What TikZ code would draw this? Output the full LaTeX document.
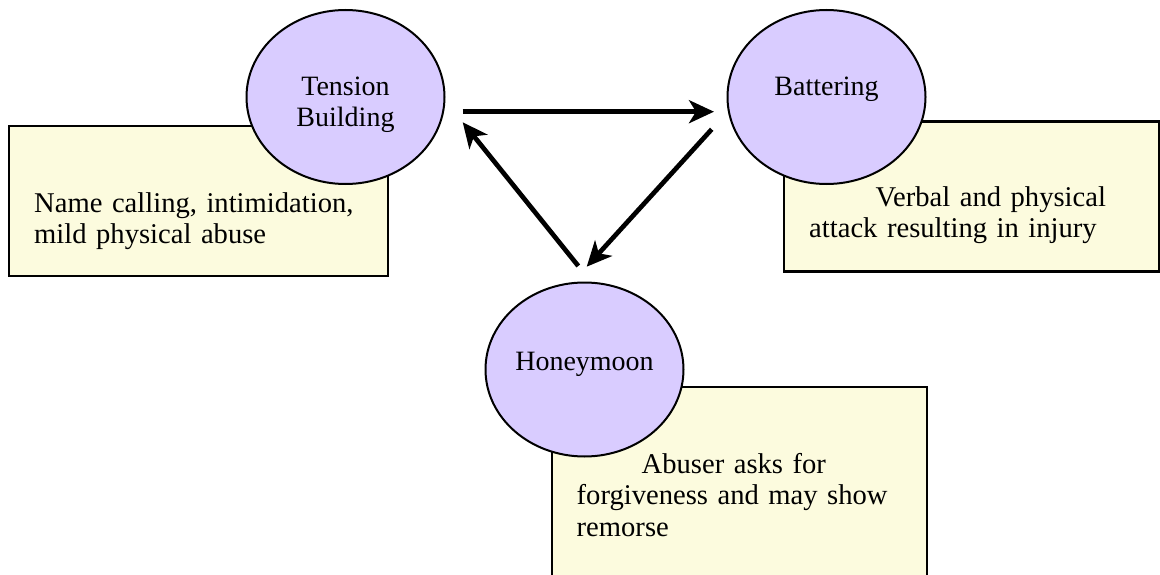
\documentclass[tikz,border=0pt]{standalone}
\usepackage{fontspec}
\setmainfont{Liberation Serif}
\usepackage{tikz}
\usetikzlibrary{positioning,calc,shapes,arrows.meta}
\definecolor{phasefill}{RGB}{217,204,255}
\definecolor{notefill}{RGB}{252,251,222}

\begin{document}
\begin{tikzpicture}[x=1pt, y=-1pt,
    phase/.style={ellipse, draw, line width=2pt, fill=phasefill, minimum width=198pt, minimum height=174pt, inner sep=0pt, outer sep=0pt},
    phasetext/.style={anchor=base, text width=190pt, align=center, inner sep=0pt, font=\fontsize{28}{31}\selectfont},
    notebox/.style={rectangle, draw, line width=2.5pt, fill=notefill, anchor=north west, minimum width=375pt, minimum height=150pt, inner sep=0pt, outer sep=0pt},
    notetext/.style={anchor=base west, text width=345pt, align=left, inner sep=0pt, font=\fontsize{28.6}{31.5}\selectfont},
    turn/.style={line width=4.7pt, -{Stealth[length=25pt, width=23pt, inset=7pt]}}]
      \clip (0,0) rectangle (1160,575);
      \node (note1) [notebox, minimum width=379pt] at (9,126) {};
      \node (note2) [notebox] at (784,121.7) {};
      \node (note3) [notebox, minimum height=200pt] at (552,387) {};
      \node (tension) [phase] at (345.5,97) {};
      \node (battering) [phase, right=283pt of tension] {};
      \node (honeymoon) [phase, below=185.5pt of $(tension)!0.5!(battering)$, xshift=-1.5pt] {};
      \node (tension-label) [phasetext] at ([yshift=1pt]tension.center) {Tension\\Building};
      \node (battering-label) [phasetext] at ([yshift=1pt]battering.center) {Battering};
      \node (honeymoon-label) [phasetext] at ([yshift=-1pt]honeymoon.center) {Honeymoon};
      \node (note1-text) [notetext] at ($(note1.north west)+(25,86)$) {Name calling, intimidation,\\mild physical abuse};
      \node (note2-text) [notetext] at ($(note2.north west)+(25,84.5)$) {\hspace*{66.5pt}Verbal and physical\\attack resulting in injury};
      \node (note3-text) [notetext] at ($(note3.north west)+(24.5,86)$) {\hspace*{65pt}Abuser asks for\\forgiveness and may show\\remorse};
      \coordinate (tension-out) at (462.7,111.7);
      \coordinate (battering-in) at (714,111.7);
      \coordinate (battering-out) at (711.7,129.3);
      \coordinate (honeymoon-in) at (586.7,266.7);
      \coordinate (honeymoon-out) at (578.3,266);
      \coordinate (tension-in) at (462.7,122.3);
      \draw [turn] (tension-out) -- (battering-in);
      \draw [turn] (battering-out) -- (honeymoon-in);
      \draw [turn] (honeymoon-out) -- (tension-in);
\end{tikzpicture}
\end{document}
